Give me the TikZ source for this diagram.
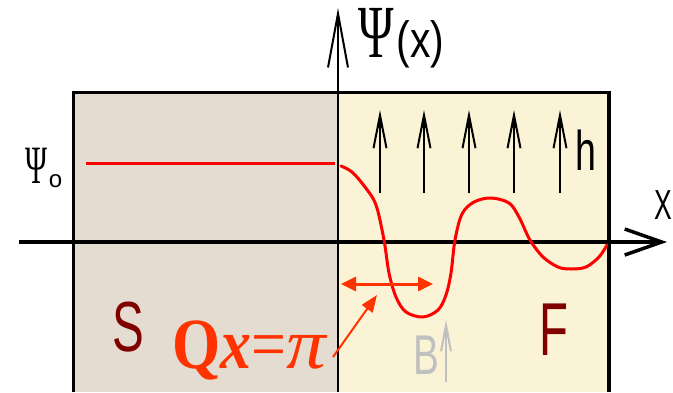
\documentclass[tikz,border=0pt]{standalone}
\usepackage{fontspec}
\usepackage{graphicx}
\setmainfont{Liberation Serif}
\setsansfont{Liberation Sans}
\usetikzlibrary{arrows.meta}
\definecolor{sgrey}{HTML}{E4DCD1}
\definecolor{fcream}{HTML}{FAF3D6}
\definecolor{qred}{HTML}{FF3300}
\definecolor{dmaroon}{HTML}{800000}
\definecolor{bgrey}{HTML}{C0C0C0}
\newcommand{\sqz}[2]{\scalebox{#1}[1]{#2}}
\begin{document}
\begin{tikzpicture}[x=1pt,y=-1pt,
  lbl/.style={inner sep=0pt, outer sep=0pt},
  hbarb/.style={line width=2pt, -{Straight Barb[length=33pt,width=13pt]}},
  hspike/.style={line width=2pt, -{Latex[length=18pt,width=6pt]}},
  curve/.style={red, line width=3pt, line cap=round, line join=round},
  qarrow/.style={qred, line width=2pt}
]
\useasboundingbox (0,0) rectangle (673,392);
% regions
\fill[sgrey] (73.5,92.5) rectangle (338,392);
\fill[fcream] (338,92.5) rectangle (609,392);
\draw[line width=3.5pt, line join=miter] (73.5,392) -- (73.5,92.5) -- (609,92.5) -- (609,392);

% axes
\coordinate (yb) at (338,392);
\coordinate (yt) at (338,8);
\coordinate (xl) at (19,242);
\coordinate (xr) at (667,242);
\draw[line width=2pt, -{Straight Barb[length=54pt,width=20pt]}] (yb) -- (yt);
\draw[line width=3.5pt, -{Straight Barb[length=37pt,width=26pt]}] (xl) -- (xr);

% labels
\node[lbl, anchor=base west] (psix) at (358,57)
  {\sqz{0.64}{\fontsize{75}{75}\selectfont Ψ}\hspace{3pt}\sqz{0.8}{\sffamily\fontsize{51}{51}\selectfont (x)}};
\node[lbl, anchor=base west] (psio) at (26,183)
  {\sqz{0.55}{\fontsize{54}{54}\selectfont Ψ}\hspace{1pt}\raisebox{-4pt}{\sffamily\fontsize{24}{24}\selectfont o}};
\node[lbl, anchor=center] (xlab) at (663,205) {\sqz{0.63}{\sffamily\fontsize{42}{42}\selectfont X}};
\node[lbl, anchor=center] (hlab) at (586,150) {\sqz{0.67}{\sffamily\fontsize{56}{56}\selectfont h}};
\node[lbl, anchor=center, text=dmaroon] (slab) at (128,327) {\sqz{0.67}{\sffamily\fontsize{71}{71}\selectfont S}};
\node[lbl, anchor=center, text=dmaroon] (flab) at (554,330) {\sqz{0.63}{\sffamily\fontsize{75}{75}\selectfont F}};
\node[lbl, anchor=center, text=bgrey] (blab) at (426,355) {\sqz{0.69}{\sffamily\fontsize{56}{56}\selectfont B}};
\node[lbl, anchor=base west, text=qred] (qlab) at (172,368)
  {\sqz{0.86}{\fontsize{72}{72}\selectfont\bfseries Q\itshape x\upshape\mdseries =}\sqz{1.1}{\fontsize{72}{72}\selectfont\itshape π}};

% psi_0 level
\coordinate (p0a) at (86,163);
\coordinate (p0b) at (335,163);
\draw[red, line width=3pt] (p0a) -- (p0b);

% oscillating curve
\draw[curve] plot[smooth, tension=0.55] coordinates {
 (341,166) (352,172) (365,187) (376,205) (384,240) (389,273) (396,297)
 (406,312) (423,317) (438,310) (446,295) (451,273) (455,240) (462,214)
 (474,202) (491,198) (509,203) (519,217) (530,240) (543,257) (558,267)
 (571,269) (586,267) (599,257) (607,245)};

% exchange field arrows
\foreach \hx/\nm in {380/h1,424/h2,469/h3,514/h4,560/h5}{
  \coordinate (\nm b) at (\hx,193);
  \coordinate (\nm t) at (\hx,110);
  \draw[hbarb] (\nm b) -- (\nm t);
  \draw[hspike] (\nm b) -- (\nm t);
}
% B arrow
\coordinate (bb) at (446,382);
\coordinate (bt) at (446,320);
\draw[bgrey, line width=2pt, -{Straight Barb[length=26pt,width=10pt]}] (bb) -- (bt);
\draw[bgrey, line width=2pt, -{Latex[length=14pt,width=5pt]}] (bb) -- (bt);

% Qx = pi arrows
\coordinate (da) at (341,284);
\coordinate (db) at (433,284);
\draw[qarrow, line width=3pt, {Triangle[length=15pt,width=14pt]}-{Triangle[length=15pt,width=14pt]}] (da) -- (db);
\coordinate (qt) at (333,357);
\coordinate (qh) at (377,295);
\draw[qarrow, -{Triangle[length=17pt,width=13pt]}] (qt) -- (qh);
\end{tikzpicture}
\end{document}
